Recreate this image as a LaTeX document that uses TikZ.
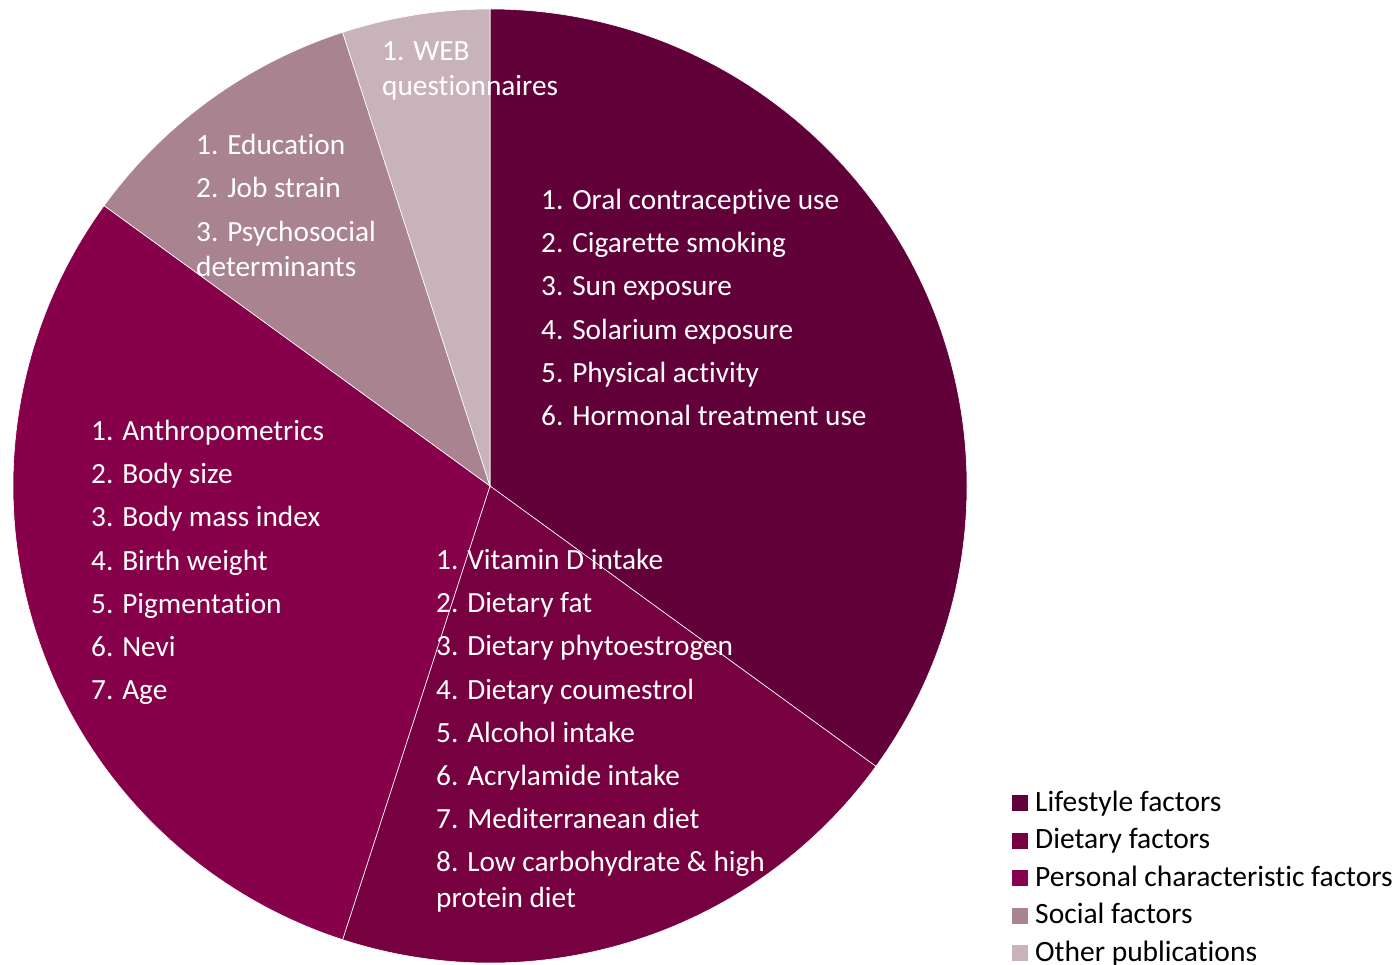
\documentclass[tikz,border=0pt]{standalone}
\usepackage{fontspec}
\setmainfont{Carlito}[Ligatures=NoCommon]
\definecolor{clife}{HTML}{62003A}
\definecolor{cdiet}{HTML}{760040}
\definecolor{cpers}{HTML}{86004A}
\definecolor{csoc}{HTML}{A9838F}
\definecolor{coth}{HTML}{C9B3BA}
\begin{document}
\begin{tikzpicture}[x=1pt,y=1pt,
  slice/.style={draw=white,line width=0.6pt},
  lbl/.style={anchor=base west,inner sep=0pt,text=white,font=\fontsize{29.3}{35}\selectfont},
  leg/.style={anchor=base west,inner sep=0pt,text=black,font=\fontsize{29.5}{35}\selectfont},
  legbox/.style={minimum width=16pt,minimum height=16pt,inner sep=0pt}]
\useasboundingbox (0,0) rectangle (1397,964);
\coordinate (c) at (490,478);
\fill[clife,slice] (c) -- ++(90:477pt) arc[start angle=90,end angle=-36,radius=477pt] -- cycle;
\fill[cdiet,slice] (c) -- ++(-36:477pt) arc[start angle=-36,end angle=-108,radius=477pt] -- cycle;
\fill[cpers,slice] (c) -- ++(-108:477pt) arc[start angle=-108,end angle=-216,radius=477pt] -- cycle;
\fill[csoc,slice] (c) -- ++(144:477pt) arc[start angle=144,end angle=108,radius=477pt] -- cycle;
\fill[coth,slice] (c) -- ++(108:477pt) arc[start angle=108,end angle=90,radius=477pt] -- cycle;
% Lifestyle
\foreach \t [count=\i] in {1. Oral contraceptive use,2. Cigarette smoking,3. Sun exposure,4. Solarium exposure,5. Physical activity,6. Hormonal treatment use}
  \node[lbl] (life\i) at (541,{964-209.5-(\i-1)*43.2}) {\t};
% Personal
\foreach \t [count=\i] in {1. Anthropometrics,2. Body size,3. Body mass index,4. Birth weight,5. Pigmentation,6. Nevi,7. Age}
  \node[lbl] (pers\i) at (91,{964-440.5-(\i-1)*43.2}) {\t};
% Dietary
\foreach \t [count=\i] in {1. Vitamin D intake,2. Dietary fat,3. Dietary phytoestrogen,4. Dietary coumestrol,5. Alcohol intake,6. Acrylamide intake,7. Mediterranean diet,8. Low carbohydrate \& high}
  \node[lbl] (diet\i) at (436,{964-569.5-(\i-1)*43.2}) {\t};
\node[lbl] (diet8b) at (436,{964-907.5}) {protein diet};
% Social
\node[lbl] (soc1) at (196,{964-154.5}) {1. Education};
\node[lbl] (soc2) at (196,{964-197.5}) {2. Job strain};
\node[lbl] (soc3) at (196,{964-241.5}) {3. Psychosocial};
\node[lbl] (soc3b) at (196,{964-276.5}) {determinants};
% Other
\node[lbl] (oth1) at (382,{964-60.5}) {1. WEB};
\node[lbl] (oth1b) at (382,{964-95.5}) {questionnaires};
% Legend
\foreach \col/\t [count=\i] in {clife/Lifestyle factors,cdiet/Dietary factors,cpers/Personal characteristic factors,csoc/Social factors,coth/Other publications}{
  \node[legbox,fill=\col] (lb\i) at (1019.5,{964-803-(\i-1)*37.5}) {};
  \node[leg] (lt\i) at (1035,{964-811-(\i-1)*37.5}) {\t};
}
\end{tikzpicture}
\end{document}
